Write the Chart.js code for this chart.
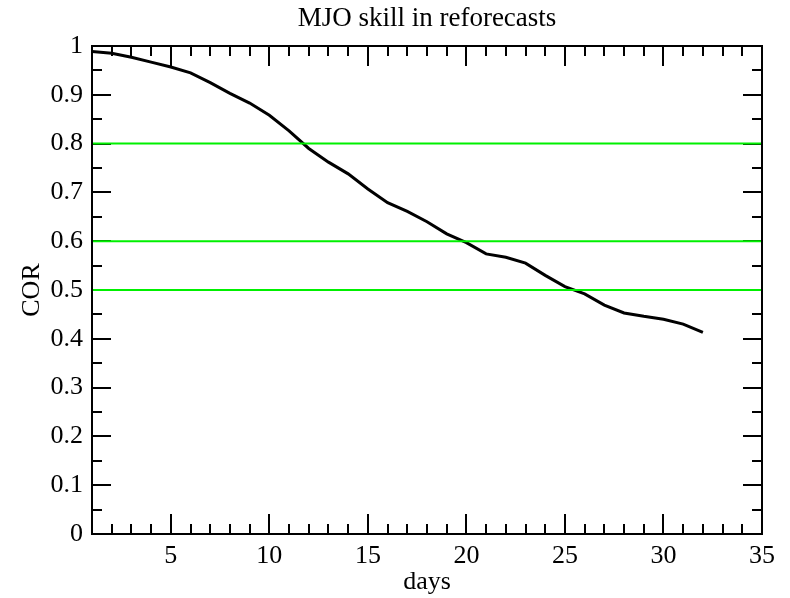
<!DOCTYPE html>
<html>
<head>
<meta charset="utf-8">
<script src="https://cdn.jsdelivr.net/npm/chart.js@4.4.1/dist/chart.umd.min.js"></script>
<style>
html,body{margin:0;padding:0;background:#fff;}
#wrap{width:790px;height:598px;}
</style>
</head>
<body>
<div id="wrap"><canvas id="c" width="790" height="598"></canvas></div>
<script>
const days = [1,2,3,4,5,6,7,8,9,10,11,12,13,14,15,16,17,18,19,20,21,22,23,24,25,26,27,28,29,30,31,32];
const cor = [0.989,0.985,0.977,0.967,0.957,0.945,0.925,0.903,0.883,0.858,0.826,0.790,0.762,0.738,0.707,0.679,0.661,0.640,0.615,0.597,0.574,0.567,0.555,0.530,0.507,0.492,0.469,0.453,0.446,0.440,0.430,0.413];
const refLevels = [0.8, 0.6, 0.5];
const xRange = [1, 35];
const yRange = [0, 1];
const xLabelTicks = [5,10,15,20,25,30,35];
const yLabelTicks = [0,0.1,0.2,0.3,0.4,0.5,0.6,0.7,0.8,0.9,1];

const serif = "'Liberation Serif','Times New Roman',serif";

const datasets = refLevels.map(v => ({
  data: [{x: xRange[0], y: v}, {x: xRange[1], y: v}],
  borderColor: '#00f000',
  borderWidth: 2,
  pointRadius: 0,
  fill: false
}));
datasets.push({
  data: days.map((d, i) => ({x: d, y: cor[i]})),
  borderColor: '#000',
  borderWidth: 3,
  pointRadius: 0,
  tension: 0,
  fill: false
});

const tickPlugin = {
  id: 'frameTicks',
  afterLayout(chart) {
    // centre the title over the plot area, as in the original
    if (chart.titleBlock) {
      chart.titleBlock.left = chart.chartArea.left;
      chart.titleBlock.right = chart.chartArea.right;
    }
  },
  beforeDatasetsDraw(chart) {
    const {ctx, chartArea: a, scales: {x, y}} = chart;
    ctx.save();
    ctx.strokeStyle = '#000';
    ctx.lineWidth = 2;
    ctx.beginPath();
    for (let v = xRange[0] + 1; v < xRange[1]; v++) {
      const px = Math.round(x.getPixelForValue(v));
      const len = (v % 5 === 0) ? 20 : 10;
      ctx.moveTo(px, a.bottom); ctx.lineTo(px, a.bottom - len);
      ctx.moveTo(px, a.top); ctx.lineTo(px, a.top + len);
    }
    for (let k = 1; k < 20; k++) {
      const v = k * 0.05;
      const py = Math.round(y.getPixelForValue(v));
      const len = (k % 2 === 0) ? 19 : 10;
      ctx.moveTo(a.left, py); ctx.lineTo(a.left + len, py);
      ctx.moveTo(a.right, py); ctx.lineTo(a.right - len, py);
    }
    ctx.stroke();
    ctx.restore();
  },
  afterDatasetsDraw(chart) {
    const {ctx, chartArea: a} = chart;
    ctx.save();
    ctx.strokeStyle = '#000';
    ctx.lineWidth = 2;
    ctx.strokeRect(a.left, a.top, a.right - a.left, a.bottom - a.top);
    ctx.restore();
  }
};

new Chart(document.getElementById('c'), {
  type: 'line',
  data: { datasets },
  plugins: [tickPlugin],
  options: {
    responsive: false,
    animation: false,
    events: [],
    layout: { padding: { left: 0, right: 28, top: 0, bottom: 0 } },
    plugins: {
      legend: { display: false },
      tooltip: { enabled: false },
      title: {
        display: true,
        text: 'MJO skill in reforecasts',
        color: '#000',
        font: { family: serif, size: 27, weight: 'normal', lineHeight: 1.2 },
        padding: { top: 3, bottom: 10.6 }
      }
    },
    scales: {
      x: {
        type: 'linear',
        min: xRange[0], max: xRange[1],
        grid: { display: false, drawTicks: false },
        border: { display: false },
        afterBuildTicks(s) { s.ticks = xLabelTicks.map(v => ({value: v})); },
        afterFit(s) { s.height = 64; },
        ticks: {
          autoSkip: false,
          maxRotation: 0,
          padding: 7,
          color: '#000',
          font: { family: serif, size: 26 },
          callback: v => String(v)
        },
        title: {
          display: true,
          text: 'days',
          color: '#000',
          font: { family: serif, size: 26, lineHeight: 1.2 },
          padding: { top: 0, bottom: 0 }
        }
      },
      y: {
        type: 'linear',
        min: yRange[0], max: yRange[1],
        grid: { display: false, drawTicks: false },
        border: { display: false },
        afterBuildTicks(s) { s.ticks = yLabelTicks.map(v => ({value: v})); },
        afterFit(s) { s.width = 92; },
        ticks: {
          padding: 9,
          color: '#000',
          font: { family: serif, size: 26 },
          callback: v => String(Math.round(v * 10) / 10)
        },
        title: {
          display: true,
          text: 'COR',
          color: '#000',
          font: { family: serif, size: 26, lineHeight: 1.2 },
          padding: { top: 17, bottom: 0 }
        }
      }
    }
  }
});
</script>
</body>
</html>
